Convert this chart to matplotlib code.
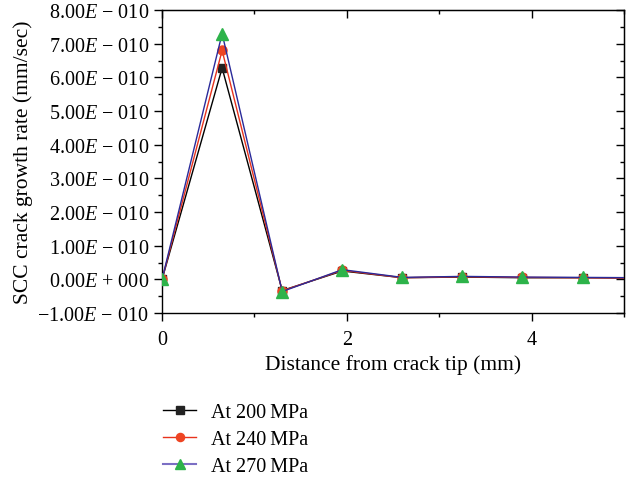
import matplotlib
matplotlib.use("Agg")
import matplotlib.pyplot as plt
from matplotlib.ticker import MultipleLocator
from matplotlib.lines import Line2D

plt.rcParams['font.family'] = ['Liberation Serif', 'DejaVu Serif']
plt.rcParams['mathtext.fontset'] = 'custom'
plt.rcParams['mathtext.rm'] = 'Liberation Serif'
plt.rcParams['mathtext.it'] = 'Liberation Serif:italic'

distance = [0.0, 0.65, 1.3, 1.95, 2.6, 3.25, 3.9, 4.55, 5.2]
rate_200 = [0.0, 6.28e-10, -0.33e-10, 0.25e-10, 0.05e-10, 0.07e-10, 0.05e-10, 0.05e-10, 0.04e-10]
rate_240 = [0.0, 6.80e-10, -0.34e-10, 0.27e-10, 0.05e-10, 0.08e-10, 0.06e-10, 0.05e-10, 0.04e-10]
rate_270 = [0.0, 7.30e-10, -0.36e-10, 0.29e-10, 0.06e-10, 0.09e-10, 0.07e-10, 0.06e-10, 0.05e-10]
labels = ["At 200\u2009MPa", "At 240\u2009MPa", "At 270\u2009MPa"]
yticks = [-1e-10, 0, 1e-10, 2e-10, 3e-10, 4e-10, 5e-10, 6e-10, 7e-10, 8e-10]
ytick_labels = ["\u22121.00$E$ \u2212 010", "0.00$E$ + 000", "1.00$E$ \u2212 010", "2.00$E$ \u2212 010",
                "3.00$E$ \u2212 010", "4.00$E$ \u2212 010", "5.00$E$ \u2212 010", "6.00$E$ \u2212 010",
                "7.00$E$ \u2212 010", "8.00$E$ \u2212 010"]

fig = plt.figure(figsize=(6.33, 4.81), dpi=100)
ax = fig.add_axes([0.256, 0.347, 0.730, 0.630])

ax.plot(distance, rate_200, color='black', lw=1.0, marker='s', ms=6, mfc='#222222', mec='#222222', zorder=3)
ax.plot(distance, rate_240, color='#e8331c', lw=1.0, marker='o', ms=6.5, mfc='#ee4422', mec='#ee4422', zorder=4)
ax.plot(distance, rate_270, color='#2a2a9a', lw=1.0, marker='^', ms=8, mfc='#2db34a', mec='#2db34a', zorder=5)

ax.set_xlim(0, 5)
ax.set_ylim(-1e-10, 8e-10)
ax.xaxis.set_major_locator(MultipleLocator(2))
ax.xaxis.set_minor_locator(MultipleLocator(1))
ax.set_yticks(yticks)
ax.set_yticklabels(ytick_labels)
ax.yaxis.set_minor_locator(MultipleLocator(0.5e-10))
ax.tick_params(axis='both', which='major', direction='out', length=6, width=1, labelsize=14.5)
ax.tick_params(axis='x', which='major', pad=6)
ax.tick_params(axis='both', which='minor', direction='out', length=3, width=1)
for s in ax.spines.values():
    s.set_linewidth(1.0)

axt = ax.secondary_xaxis('top')
axt.xaxis.set_major_locator(MultipleLocator(2))
axt.xaxis.set_minor_locator(MultipleLocator(1))
axt.tick_params(which='major', direction='in', length=6, width=1, labeltop=False)
axt.tick_params(which='minor', direction='in', length=3, width=1)
axr = ax.secondary_yaxis('right')
axr.set_yticks(yticks)
axr.yaxis.set_minor_locator(MultipleLocator(0.5e-10))
axr.tick_params(which='major', direction='in', length=6, width=1, labelright=False)
axr.tick_params(which='minor', direction='in', length=3, width=1)

ax.set_xlabel("Distance from crack tip (mm)", fontsize=15.5, labelpad=4)
ax.set_ylabel("SCC crack growth rate (mm/sec)", fontsize=15.5, labelpad=3)

handles = [
    Line2D([], [], color='black', lw=1.0, marker='s', ms=6, mfc='#222222', mec='#222222'),
    Line2D([], [], color='#e8331c', lw=1.0, marker='o', ms=6.5, mfc='#ee4422', mec='#ee4422'),
    Line2D([], [], color='#7b6fc4', lw=1.5, marker='^', ms=8, mfc='#2db34a', mec='#2db34a'),
]
fig.legend(handles, labels, loc='upper left', bbox_to_anchor=(0.229, 0.198), frameon=False,
           fontsize=14.5, handlelength=1.65, handletextpad=0.75, labelspacing=0.4, markerscale=0.9)

fig.savefig("out.png", dpi=100)
